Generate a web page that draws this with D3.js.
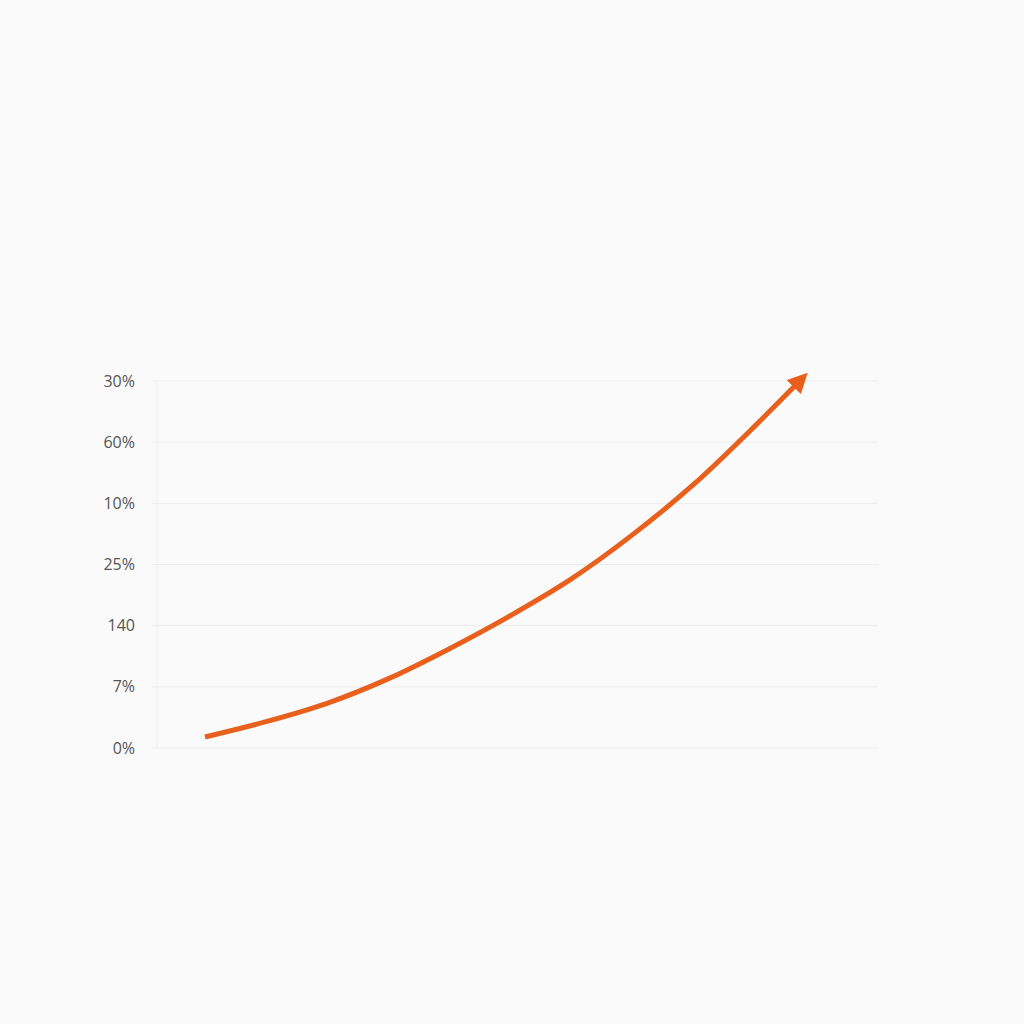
<!DOCTYPE html>
<html>
<head>
<meta charset="utf-8">
<script src="https://cdn.jsdelivr.net/npm/d3@7"></script>
<style>
  html, body { margin: 0; padding: 0; background: #fafafa; }
  svg { display: block; }
</style>
</head>
<body>
<div id="container"></div>
<script>
// tick labels as they appear on the axis, bottom to top
const tickLabels = ["0%", "7%", "140", "25%", "10%", "60%", "30%"]
// curve (x in steps, y in gridline units)
const xValues = [1, 2, 3, 4, 5, 6, 7, 8, 9, 10, 10.72]
const yValues = [0.18, 0.43, 0.73, 1.13, 1.62, 2.16, 2.76, 3.48, 4.30, 5.25, 5.97]

const w = 1024, h = 1024
const svg = d3.select("#container").append("svg").attr("width", w).attr("height", h)
svg.append("rect").attr("width", w).attr("height", h).attr("fill", "#fafafa")

const x = d3.scaleLinear().domain([0, 12]).range([144, 876])
const y = d3.scaleLinear().domain([0, 6]).range([748, 381])

// faint gridlines
svg.append("g").selectAll("line")
    .data(d3.range(tickLabels.length))
    .enter()
    .append("line")
    .attr("x1", 152).attr("x2", 878)
    .attr("y1", d => y(d)).attr("y2", d => y(d))
    .attr("stroke", "#ededed").attr("stroke-width", 1)

svg.append("line")
    .attr("x1", 157).attr("x2", 157)
    .attr("y1", y(6)).attr("y2", y(0))
    .attr("stroke", "#f0f0f0").attr("stroke-width", 1)

// y axis labels
const yAxis = d3.axisLeft(y).tickValues(d3.range(tickLabels.length)).tickFormat(i => tickLabels[i]).tickSize(0).tickPadding(0)
const ax = svg.append("g").attr("transform", "translate(135,0)").call(yAxis)
ax.select(".domain").remove()
ax.selectAll("text").attr("font-family", "'Open Sans', sans-serif").attr("font-size", 16).attr("fill", "#555")

// arrow marker
svg.append("defs").append("marker")
    .attr("id", "arrow")
    .attr("viewBox", "0 0 10 10")
    .attr("refX", 3).attr("refY", 5)
    .attr("markerWidth", 4).attr("markerHeight", 4)
    .attr("markerUnits", "strokeWidth")
    .attr("orient", "auto")
    .append("path").attr("d", "M0,0 L10,5 L0,10 z").attr("fill", "#e8601c")

const pts = xValues.map((d, i) => [d, yValues[i]])
const line = d3.line().x(d => x(d[0])).y(d => y(d[1])).curve(d3.curveMonotoneX)

svg.append("path")
    .datum(pts)
    .attr("d", line)
    .attr("fill", "none")
    .attr("stroke", "#e8601c")
    .attr("stroke-width", 5)
    .attr("stroke-linecap", "butt")
    .attr("marker-end", "url(#arrow)")
</script>
</body>
</html>
